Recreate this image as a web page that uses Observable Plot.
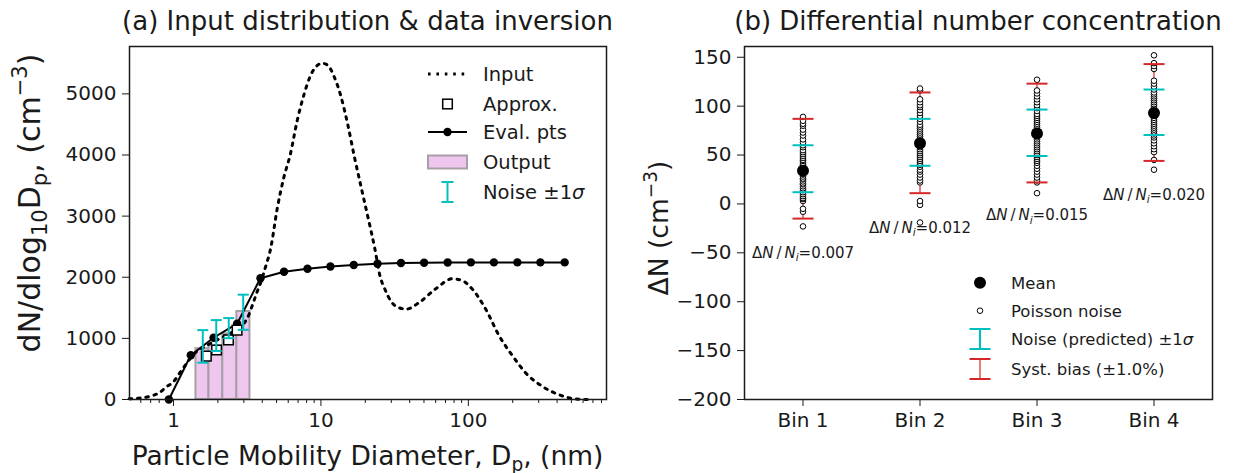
<!DOCTYPE html>
<html><head><meta charset="utf-8">
<script src="https://cdn.jsdelivr.net/npm/d3@7"></script>
<script src="https://cdn.jsdelivr.net/npm/@observablehq/plot@0.6"></script>
<style>
html,body{margin:0;padding:0;background:#fff;}
#fig{display:flex;width:1233px;height:473px;font-family:"DejaVu Sans";}
svg{display:block;}
</style></head><body><div id="fig"></div>
<script>
// ---------- Panel (a) data ----------
const inputDp  = [0.5,0.6,0.7,0.8,0.9,1.0,1.1,1.2,1.4,1.7,2.0,2.5,3.0,3.25,3.45,3.65,3.9,4.2,4.56,5.06,5.6,6.2,6.9,7.7,8.5,9.5,10.2,11.1,12.3,13.7,15.2,16.9,18.8,20.9,23.2,25.1,27.2,30,34,38,46,60,78,90,106,131,162,200,246,320,415,570,650];
const inputVal = [12,26,55,110,210,290,430,560,760,890,980,1100,1240,1390,1560,1730,1910,2160,2470,3130,3630,4010,4560,5000,5300,5470,5500,5470,5280,4950,4500,3960,3460,2970,2470,2030,1800,1600,1500,1480,1580,1810,1975,1950,1810,1480,1040,710,430,210,75,3,0];
const evalDp   = [0.93,1.31,1.87,2.70,3.89,5.62,8.11,11.6,16.7,24.2,34.9,50.1,72.4,104,149,215,308,450];
const evalVal  = [0,725,1010,1240,1985,2090,2140,2175,2200,2220,2232,2238,2242,2243,2243,2243,2243,2243];
const approxDp  = [1.67,1.96,2.36,2.70];
const approxVal = [710,810,975,1135];
const binEdges  = [1.42,1.74,2.16,2.69,3.30];
const outputVal = [830,880,1075,1440];
const noiseDp   = [1.58,1.95,2.37,2.97];
const noiseLo   = [602,794,1003,1140];
const noiseHi   = [1135,1299,1332,1715];
const leftYTicks = [0,1000,2000,3000,4000,5000];
const xMajorTicks = [1,10,100];
const xMinorTicks = [0.6,0.7,0.8,0.9,2,3,4,5,6,7,8,9,20,30,40,50,60,70,80,90,200,300,400,500,600,700,800];

// ---------- Panel (b) data ----------
const bins = [1,2,3,4];
const binLabels = ["Bin 1","Bin 2","Bin 3","Bin 4"];
const poisson1 = [-23,-8,-5,3,5,6,8,10,12,14,16,18,20,21,23,25,26,28,30,31,33,34,36,37,39,40,42,44,45,47,49,51,53,55,58,60,63,66,70,73,76,80,82,85,89];
const poisson2 = [-19,-1,3,22,24,27,30,33,35,38,40,42,44,46,48,50,52,54,56,58,60,62,63,65,67,69,71,73,75,77,79,81,84,87,90,93,96,99,101,104,107,116,118];
const poisson3 = [11,22,24,27,30,33,36,39,42,44,46,48,50,52,54,56,58,60,62,64,66,68,70,72,74,76,78,80,82,84,86,88,90,92,95,98,101,104,107,110,113,116,127];
const poisson4 = [35,45,53,56,59,62,65,68,70,72,74,76,78,80,82,84,86,88,90,92,94,96,98,100,102,104,106,108,110,112,114,117,120,123,126,138,141,144,152];
const meanVals = [34,62,72,93];
const predLo = [12,39,49,70.5];
const predHi = [60,87,96.5,117];
const biasLo = [-15,11,22,44];
const biasHi = [87,114,123,143];
const ratioLabels = ["0.007","0.012","0.015","0.020"];
const ratioY = [-50.5,-24.5,-12,9];
const rightYTicks = [-200,-150,-100,-50,0,50,100,150];

// ---------- styles ----------
const CYAN = "#00bfbf", RED = "#d62728", PINK = "#efc6ee", PINKEDGE = "#a79fa7", INK = "#1a1a1a";
const FONT = "DejaVu Sans";
const DOTS = "2.6,5.8";
function cap(w){ return {draw(ctx){ ctx.moveTo(-w/2,0); ctx.lineTo(w/2,0); }}; }

// ---------- build tables ----------
const inputData = inputDp.map((d,i)=>({x:d, y:inputVal[i]}));
const evalData = evalDp.map((d,i)=>({x:d, y:evalVal[i]}));
const approxData = approxDp.map((d,i)=>({x:d, y:approxVal[i]}));
const outData = outputVal.map((v,i)=>({x1:binEdges[i], x2:binEdges[i+1], y:v}));
const noiseData = noiseDp.map((d,i)=>({x:d, lo:noiseLo[i], hi:noiseHi[i]}));

const left = Plot.plot({
  width: 620, height: 473, marginLeft: 129, marginRight: 14, marginTop: 46, marginBottom: 74,
  style: {fontFamily: FONT, color: INK, background: "white", overflow: "visible"},
  x: {type: "log", domain: [0.503, 865], axis: null},
  y: {domain: [0, 5775], axis: null},
  marks: [
    Plot.rect(outData, {x1: "x1", x2: "x2", y1: 0, y2: "y", fill: PINK, stroke: PINKEDGE, strokeWidth: 2}),
    Plot.line(inputData, {x: "x", y: "y", curve: "monotone-x", stroke: "#000", strokeWidth: 3, strokeDasharray: DOTS}),
    Plot.line(evalData, {x: "x", y: "y", stroke: "#000", strokeWidth: 2}),
    Plot.dot(evalData, {x: "x", y: "y", r: 4.2, fill: "#000"}),
    Plot.dot(approxData, {x: "x", y: "y", symbol: "square", r: 5.4, fill: "white", stroke: "#000", strokeWidth: 1.5}),
    Plot.ruleX(noiseData, {x: "x", y1: "lo", y2: "hi", stroke: CYAN, strokeWidth: 2}),
    Plot.dot(noiseData, {x: "x", y: "lo", symbol: cap(11), fill: "none", stroke: CYAN, strokeWidth: 2}),
    Plot.dot(noiseData, {x: "x", y: "hi", symbol: cap(11), fill: "none", stroke: CYAN, strokeWidth: 2}),
    Plot.frame({stroke: INK, strokeWidth: 1.5}),
    Plot.axisY({ticks: leftYTicks, tickSize: 7, tickPadding: 6, fontSize: 20, label: null, tickFormat: d => String(d)}),
    Plot.axisX({ticks: xMajorTicks, tickSize: 7, tickPadding: 6, fontSize: 20, label: null, tickFormat: d => String(d)}),
    Plot.axisX({ticks: xMinorTicks, tickSize: 4, label: null, tickFormat: () => ""})
  ]
});

const poissonData = [poisson1, poisson2, poisson3, poisson4].flatMap((arr,i)=>arr.map(v=>({bin:bins[i], v})));
const binData = bins.map((b,i)=>({bin:b, mean:meanVals[i], plo:predLo[i], phi:predHi[i], blo:biasLo[i], bhi:biasHi[i], lab:ratioLabels[i], ay:ratioY[i]}));

const right = Plot.plot({
  width: 613, height: 473, marginLeft: 124, marginRight: 21, marginTop: 46, marginBottom: 74,
  style: {fontFamily: FONT, color: INK, background: "white", overflow: "visible"},
  x: {domain: [0.5, 4.5], axis: null},
  y: {domain: [-200, 161], axis: null},
  marks: [
    Plot.ruleX(binData, {x: "bin", y1: "blo", y2: "bhi", stroke: RED, strokeWidth: 1.2}),
    Plot.ruleX(binData, {x: "bin", y1: "plo", y2: "phi", stroke: CYAN, strokeWidth: 1.5}),
    Plot.dot(poissonData, {x: "bin", y: "v", r: 2.8, fill: "white", stroke: "#000", strokeWidth: 1}),
    Plot.dot(binData, {x: "bin", y: "blo", symbol: cap(21), fill: "none", stroke: RED, strokeWidth: 2}),
    Plot.dot(binData, {x: "bin", y: "bhi", symbol: cap(21), fill: "none", stroke: RED, strokeWidth: 2}),
    Plot.dot(binData, {x: "bin", y: "plo", symbol: cap(21), fill: "none", stroke: CYAN, strokeWidth: 2}),
    Plot.dot(binData, {x: "bin", y: "phi", symbol: cap(21), fill: "none", stroke: CYAN, strokeWidth: 2}),
    Plot.dot(binData, {x: "bin", y: "mean", r: 6, fill: "#000"}),
    Plot.text(binData, {x: "bin", y: "ay", text: d => "ΔN/Nᵢ=" + d.lab, fontSize: 15, fill: INK}),
    Plot.frame({stroke: INK, strokeWidth: 1.5}),
    Plot.axisY({ticks: rightYTicks, tickSize: 7, tickPadding: 6, fontSize: 20, label: null, tickFormat: d => d < 0 ? "\u2212" + (-d) : String(d)}),
    Plot.axisX({ticks: bins, tickSize: 7, tickPadding: 6, fontSize: 20, label: null, tickFormat: d => binLabels[d-1]})
  ]
});

document.getElementById("fig").append(left, right);

// ---------- text helpers ----------
function rich(parent, x, y, fs, parts, anchor, rotate) {
  const t = parent.append("text").attr("font-size", fs).attr("font-family", FONT).attr("fill", INK)
    .attr("text-anchor", anchor || "start");
  if (rotate) t.attr("transform", `translate(${x},${y}) rotate(${rotate})`);
  else t.attr("x", x).attr("y", y);
  let shift = 0;
  for (const [s, kind, style] of parts) {
    const ts = t.append("tspan").text(s);
    const target = kind === "sub" ? 0.22*fs : kind === "sup" ? -0.42*fs : 0;
    ts.attr("dy", target - shift); shift = target;
    if (kind === "sub" || kind === "sup") ts.attr("font-size", fs*0.7);
    if (style === "i") ts.attr("font-style", "italic");
  }
  return t;
}

// annotations: rebuild with italic math parts
d3.select(right).selectAll("text").filter(function(){ return this.textContent.startsWith("ΔN"); })
  .each(function(){
    const val = this.textContent.split("=")[1];
    const t = d3.select(this); t.text("");
    t.append("tspan").text("Δ");
    t.append("tspan").attr("font-style","italic").text("N");
    t.append("tspan").text("\u2009/\u2009");
    t.append("tspan").attr("font-style","italic").text("N");
    t.append("tspan").attr("font-style","italic").attr("font-size", 10.5).attr("dy", 3.3).text("i");
    t.append("tspan").attr("dy", -3.3).text("=" + val);
  });

// ---------- panel (a) labels & legend ----------
const L = d3.select(left);
rich(L, 367.5, 30, 26, [["(a) Input distribution & data inversion","n"]], "middle");
rich(L, 367.5, 465, 26.5, [["Particle Mobility Diameter, D","n"],["p","sub"],[", (nm)","n"]], "middle");
rich(L, 40, 203, 30, [["dN/dlog","n"],["10","sub"],["D","n"],["p","sub"],[", (cm","n"],["\u22123","sup"],[")","n"]], "middle", -90);

const lg = L.append("g");
const lfs = 19.5, lx = 483, hx1 = 428, hx2 = 467, hc = 447.5;
const rowsL = [74, 104, 132, 162, 192];
lg.append("line").attr("x1",hx1).attr("x2",hx2).attr("y1",rowsL[0]).attr("y2",rowsL[0]).attr("stroke","#000").attr("stroke-width",3).attr("stroke-dasharray",DOTS);
lg.append("rect").attr("x",hc-4.8).attr("y",rowsL[1]-4.8).attr("width",9.6).attr("height",9.6).attr("fill","white").attr("stroke","#000").attr("stroke-width",1.5);
lg.append("line").attr("x1",hx1).attr("x2",hx2).attr("y1",rowsL[2]).attr("y2",rowsL[2]).attr("stroke","#000").attr("stroke-width",2);
lg.append("circle").attr("cx",hc).attr("cy",rowsL[2]).attr("r",4.2).attr("fill","#000");
lg.append("rect").attr("x",hx1).attr("y",rowsL[3]-6.5).attr("width",hx2-hx1).attr("height",13).attr("fill",PINK).attr("stroke",PINKEDGE).attr("stroke-width",2);
lg.append("line").attr("x1",hc).attr("x2",hc).attr("y1",rowsL[4]-10).attr("y2",rowsL[4]+10).attr("stroke",CYAN).attr("stroke-width",2);
lg.append("line").attr("x1",hc-6).attr("x2",hc+6).attr("y1",rowsL[4]-10).attr("y2",rowsL[4]-10).attr("stroke",CYAN).attr("stroke-width",2);
lg.append("line").attr("x1",hc-6).attr("x2",hc+6).attr("y1",rowsL[4]+10).attr("y2",rowsL[4]+10).attr("stroke",CYAN).attr("stroke-width",2);
const legTextL = [[["Input","n"]],[["Approx.","n"]],[["Eval. pts","n"]],[["Output","n"]],[["Noise \u00b11","n"],["σ","n","i"]]];
legTextL.forEach((p,i)=> rich(lg, lx, rowsL[i] + 0.36*lfs, lfs, p));

// ---------- panel (b) labels & legend ----------
const R = d3.select(right);
rich(R, 358, 30, 26, [["(b) Differential number concentration","n"]], "middle");
rich(R, 48, 228, 26.5, [["ΔN (cm","n"],["\u22123","sup"],[")","n"]], "middle", -90);

const rg = R.append("g");
const rfs = 16.5, rx = 391, rc = 360;
const rowsR = [282.7, 310.7, 339, 369];
rg.append("circle").attr("cx",rc).attr("cy",rowsR[0]).attr("r",6).attr("fill","#000");
rg.append("circle").attr("cx",rc).attr("cy",rowsR[1]).attr("r",2.8).attr("fill","white").attr("stroke","#000").attr("stroke-width",1);
[[rowsR[2], CYAN, 2],[rowsR[3], RED, 1.2]].forEach(([cy, col, w])=>{
  rg.append("line").attr("x1",rc).attr("x2",rc).attr("y1",cy-10).attr("y2",cy+10).attr("stroke",col).attr("stroke-width",w);
  rg.append("line").attr("x1",rc-10.5).attr("x2",rc+10.5).attr("y1",cy-10).attr("y2",cy-10).attr("stroke",col).attr("stroke-width",2);
  rg.append("line").attr("x1",rc-10.5).attr("x2",rc+10.5).attr("y1",cy+10).attr("y2",cy+10).attr("stroke",col).attr("stroke-width",2);
});
const legTextR = [[["Mean","n"]],[["Poisson noise","n"]],[["Noise (predicted) \u00b11","n"],["σ","n","i"]],[["Syst. bias (\u00b11.0%)","n"]]];
legTextR.forEach((p,i)=> rich(rg, rx, rowsR[i] + 0.36*rfs, rfs, p));
</script></body></html>
